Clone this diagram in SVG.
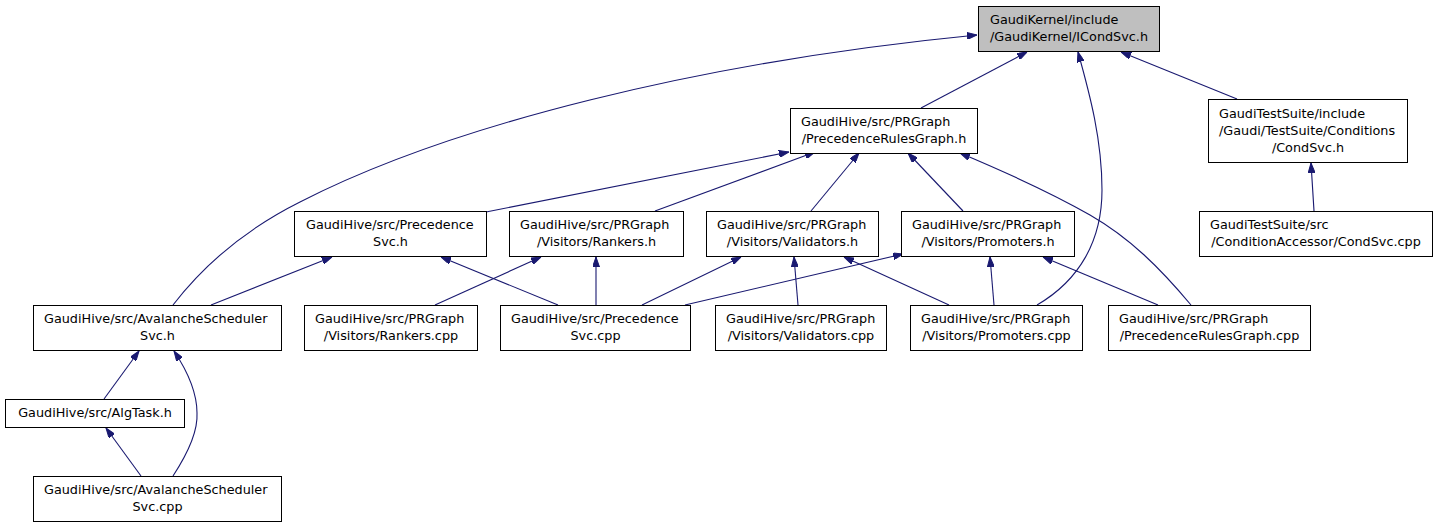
<svg xmlns="http://www.w3.org/2000/svg" width="1437" height="527" viewBox="0 0 1437 527">
<style>
rect{fill:#fff;stroke:#000;stroke-width:1}
rect.root{fill:#bfbfbf}
text{font-family:"DejaVu Sans","Liberation Sans",sans-serif;font-size:12.8px;fill:#000}
text.c{text-anchor:middle}
#edges path{fill:none;stroke:#191970;stroke-width:1.1;marker-end:url(#ah)}
</style>
<defs>
<marker id="ah" viewBox="0 0 10 7" refX="10" refY="3.5" markerWidth="10" markerHeight="7" markerUnits="userSpaceOnUse" orient="auto">
<path d="M0,0 L10,3.5 L0,7 z" fill="#191970" stroke="#191970"/>
</marker>
</defs>
<rect x="0" y="0" width="1437" height="527" style="fill:#fff;stroke:none"/>
<g id="edges">
<path d="M173,305 C200,270 240,232 300,202 C450,125 700,62 977,35"/>
<path d="M921,108 L1027,52"/>
<path d="M1037,305 C1080,280 1102,240 1102,190 C1102,140 1090,95 1078,52"/>
<path d="M1237,99 L1121,52"/>
<path d="M1314,211 L1311,163"/>
<path d="M486,212 L789,152"/>
<path d="M655,211 L815,152"/>
<path d="M811,211 L859,153"/>
<path d="M963,211 L908,153"/>
<path d="M1191,305 C1160,268 1130,238 1090,215 C1055,195 1010,174 960,153"/>
<path d="M211,305 L332,257"/>
<path d="M558,305 L441,257"/>
<path d="M435,305 L541,257"/>
<path d="M596,305 L596,257"/>
<path d="M642,305 L741,257"/>
<path d="M798,305 L794,257"/>
<path d="M949,305 L844,257"/>
<path d="M685,305 L903,254"/>
<path d="M994,305 L990,257"/>
<path d="M1158,305 L1043,257"/>
<path d="M104,399 L139,351"/>
<path d="M173,476 C190,450 198,430 197,413 C197,393 188,372 174,351"/>
<path d="M141,476 L106,428"/>
</g>
<g id="n1"><rect class="root" x="978.5" y="6.5" width="181" height="45"/><text x="990" y="24">GaudiKernel/include</text><text class="c" x="1069" y="41">/GaudiKernel/ICondSvc.h</text></g>
<g id="n2"><rect x="790.5" y="108.5" width="187" height="45"/><text x="801" y="126">GaudiHive/src/PRGraph</text><text class="c" x="884" y="143">/PrecedenceRulesGraph.h</text></g>
<g id="n3"><rect x="1208.5" y="99.5" width="199" height="63"/><text x="1219" y="118">GaudiTestSuite/include</text><text x="1219" y="135">/Gaudi/TestSuite/Conditions</text><text class="c" x="1308" y="152">/CondSvc.h</text></g>
<g id="n4"><rect x="1199.5" y="211.5" width="233" height="45"/><text x="1210" y="229">GaudiTestSuite/src</text><text class="c" x="1316" y="246">/ConditionAccessor/CondSvc.cpp</text></g>
<g id="n5"><rect x="294.5" y="211.5" width="192" height="45"/><text x="306" y="229">GaudiHive/src/Precedence</text><text class="c" x="390.5" y="246">Svc.h</text></g>
<g id="n6"><rect x="509.5" y="211.5" width="174" height="45"/><text x="520" y="229">GaudiHive/src/PRGraph</text><text class="c" x="596.5" y="246">/Visitors/Rankers.h</text></g>
<g id="n7"><rect x="706.5" y="211.5" width="172" height="45"/><text x="717" y="229">GaudiHive/src/PRGraph</text><text class="c" x="792.5" y="246">/Visitors/Validators.h</text></g>
<g id="n8"><rect x="901.5" y="211.5" width="173" height="45"/><text x="912" y="229">GaudiHive/src/PRGraph</text><text class="c" x="988" y="246">/Visitors/Promoters.h</text></g>
<g id="n9"><rect x="33.5" y="305.5" width="248" height="45"/><text x="44" y="323">GaudiHive/src/AvalancheScheduler</text><text class="c" x="157.5" y="340">Svc.h</text></g>
<g id="n10"><rect x="304.5" y="305.5" width="173" height="45"/><text x="315" y="323">GaudiHive/src/PRGraph</text><text class="c" x="391" y="340">/Visitors/Rankers.cpp</text></g>
<g id="n11"><rect x="500.5" y="305.5" width="190" height="45"/><text x="511" y="323">GaudiHive/src/Precedence</text><text class="c" x="595.5" y="340">Svc.cpp</text></g>
<g id="n12"><rect x="715.5" y="305.5" width="171" height="45"/><text x="726" y="323">GaudiHive/src/PRGraph</text><text class="c" x="801" y="340">/Visitors/Validators.cpp</text></g>
<g id="n13"><rect x="910.5" y="305.5" width="172" height="45"/><text x="921" y="323">GaudiHive/src/PRGraph</text><text class="c" x="996.5" y="340">/Visitors/Promoters.cpp</text></g>
<g id="n14"><rect x="1108.5" y="305.5" width="202" height="45"/><text x="1119" y="323">GaudiHive/src/PRGraph</text><text class="c" x="1209.5" y="340">/PrecedenceRulesGraph.cpp</text></g>
<g id="n15"><rect x="5.5" y="399.5" width="179" height="28"/><text class="c" x="95" y="417">GaudiHive/src/AlgTask.h</text></g>
<g id="n16"><rect x="33.5" y="476.5" width="248" height="45"/><text x="44" y="494">GaudiHive/src/AvalancheScheduler</text><text class="c" x="157.5" y="511">Svc.cpp</text></g>
</svg>
